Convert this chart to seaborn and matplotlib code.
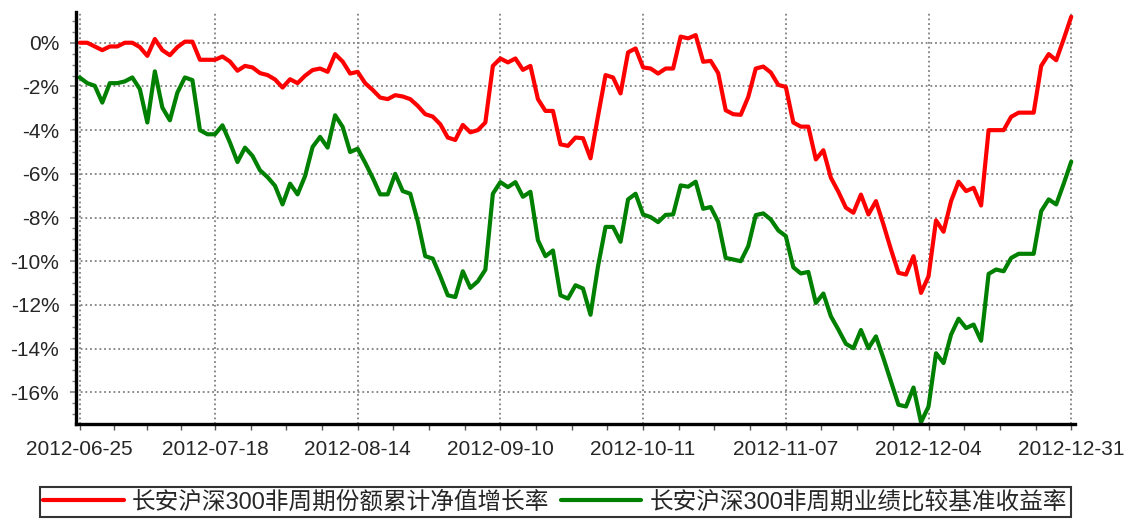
# Line chart: 长安沪深300非周期 net value growth vs benchmark
import numpy as np
import pandas as pd
import seaborn as sns
import matplotlib.pyplot as plt
from matplotlib.ticker import FixedLocator, FuncFormatter, MultipleLocator

# trading days plus the half-year / quarter-end valuation days
dates = pd.bdate_range("2012-06-25", "2012-12-31")
dates = dates[~((dates >= "2012-10-01") & (dates <= "2012-10-05"))]
dates = dates.append(pd.DatetimeIndex(["2012-06-30", "2012-09-30"])).sort_values()
date_labels = [d.strftime("%Y-%m-%d") for d in dates]

tick_labels = ["2012-06-25", "2012-07-18", "2012-08-14", "2012-09-10",
               "2012-10-11", "2012-11-07", "2012-12-04", "2012-12-31"]

# 份额累计净值增长率 (%)
fund = [0.0, 0.0, -0.17, -0.34, -0.17, -0.17, 0.0, 0.0, -0.2, -0.6,
        0.17, -0.34, -0.57, -0.2, 0.05, 0.05, -0.78, -0.78, -0.78, -0.63,
        -0.86, -1.28, -1.06, -1.13, -1.39, -1.48, -1.68, -2.05, -1.67, -1.85,
        -1.51, -1.25, -1.18, -1.33, -0.52, -0.86, -1.41, -1.33, -1.85, -2.16,
        -2.51, -2.58, -2.40, -2.46, -2.58, -2.89, -3.27, -3.38, -3.73, -4.34,
        -4.45, -3.76, -4.10, -4.0, -3.65, -1.06, -0.72, -0.90, -0.72, -1.24,
        -1.06, -2.58, -3.12, -3.12, -4.65, -4.72, -4.34, -4.37, -5.29, -3.35,
        -1.48, -1.59, -2.32, -0.44, -0.26, -1.13, -1.18, -1.41, -1.18, -1.18,
        0.28, 0.20, 0.35, -0.87, -0.83, -1.39, -3.09, -3.27, -3.30, -2.48,
        -1.18, -1.09, -1.36, -1.93, -2.02, -3.65, -3.84, -3.84, -5.34, -4.92,
        -6.18, -6.82, -7.55, -7.78, -6.95, -7.86, -7.25, -8.32, -9.46, -10.53,
        -10.61, -9.77, -11.45, -10.69, -8.13, -8.65, -7.25, -6.36, -6.79, -6.64,
        -7.45, -4.0, -4.0, -4.0, -3.39, -3.20, -3.20, -3.20, -1.06, -0.52,
        -0.80, 0.17, 1.19]

# 业绩比较基准收益率 (%)
bench = [-1.59, -1.85, -1.97, -2.74, -1.85, -1.85, -1.77, -1.59, -2.12, -3.65,
         -1.31, -2.97, -3.55, -2.28, -1.59, -1.71, -4.0, -4.19, -4.19, -3.78,
         -4.57, -5.46, -4.80, -5.18, -5.84, -6.15, -6.55, -7.40, -6.45, -6.94,
         -6.10, -4.77, -4.31, -4.80, -3.32, -3.85, -5.0, -4.85, -5.49, -6.18,
         -6.94, -6.94, -6.0, -6.79, -6.91, -8.17, -9.77, -9.88, -10.69, -11.56,
         -11.64, -10.46, -11.22, -10.92, -10.39, -6.91, -6.38, -6.61, -6.38, -7.05,
         -6.82, -9.04, -9.77, -9.51, -11.56, -11.71, -11.10, -11.25, -12.45, -10.23,
         -8.43, -8.43, -9.11, -7.17, -6.91, -7.86, -7.98, -8.21, -7.88, -7.86,
         -6.53, -6.59, -6.36, -7.60, -7.52, -8.20, -9.85, -9.92, -10.0, -9.31,
         -7.89, -7.81, -8.09, -8.59, -8.85, -10.28, -10.56, -10.49, -11.91, -11.48,
         -12.52, -13.13, -13.78, -13.98, -13.15, -13.98, -13.44, -14.44, -15.50, -16.57,
         -16.65, -15.78, -17.37, -16.65, -14.21, -14.66, -13.36, -12.63, -13.06, -12.90,
         -13.64, -10.58, -10.38, -10.46, -9.85, -9.66, -9.66, -9.66, -7.71, -7.17,
         -7.40, -6.45, -5.44]

series_names = ["长安沪深300非周期份额累计净值增长率", "长安沪深300非周期业绩比较基准收益率"]

sns.set_theme(style="white")
plt.rcParams["font.family"] = ["Liberation Sans", "Noto Sans CJK SC", "DejaVu Sans"]
plt.rcParams["axes.unicode_minus"] = False

df = pd.DataFrame({"pos": np.arange(len(dates)), "date": date_labels,
                   series_names[0]: fund, series_names[1]: bench})
long = df.melt(id_vars=["pos", "date"], var_name="series", value_name="value")

fig = plt.figure(figsize=(11.24, 5.21), dpi=100)
ax = fig.add_axes([0.0676, 0.1862, 0.8888, 0.7913])

sns.lineplot(data=long, x="pos", y="value", hue="series",
             palette=["#ff0000", "#008000"], linewidth=3, ax=ax, legend=False)

ax.set_xlim(-0.5, len(dates) - 0.5)
ax.set_ylim(-17.45, 1.42)

major_pos = [date_labels.index(t) for t in tick_labels]
ax.xaxis.set_major_locator(FixedLocator(major_pos))
ax.set_xticklabels(tick_labels)
minor_pos = []
for a, b in zip(major_pos[:-1], major_pos[1:]):
    minor_pos += list(np.linspace(a, b, 5)[1:-1])
ax.xaxis.set_minor_locator(FixedLocator(minor_pos))

ax.yaxis.set_major_locator(MultipleLocator(2))
ax.yaxis.set_minor_locator(MultipleLocator(0.5))
ax.yaxis.set_major_formatter(FuncFormatter(lambda v, p: f"{v:.0f}%"))

ax.grid(True, which="major", color="#808080", linestyle=(0, (1, 1.6)), linewidth=1.3)
ax.set_axisbelow(True)

for side in ["top", "right"]:
    ax.spines[side].set_visible(False)
for side in ["left", "bottom"]:
    ax.spines[side].set_color("black")
    ax.spines[side].set_linewidth(2.4)

ax.tick_params(axis="x", which="both", direction="out", length=4.5, width=1,
               color="#555555", pad=7, labelsize=15, bottom=True)
ax.tick_params(axis="y", which="major", direction="out", length=4, width=1.2,
               color="#808080", pad=8, labelsize=15, left=True)
ax.tick_params(axis="y", which="minor", direction="out", length=3, width=1,
               color="#808080", left=True)
ax.set_xlabel("")
ax.set_ylabel("")

handles = [plt.Line2D([], [], color="#ff0000", linewidth=3),
           plt.Line2D([], [], color="#008000", linewidth=3)]
leg = fig.legend(handles, series_names, loc="center", bbox_to_anchor=(0.494, 0.036),
                 ncol=2, frameon=True, fancybox=False, shadow=False,
                 fontsize=17, handlelength=3.4, handletextpad=0.35,
                 columnspacing=0.5, borderpad=0.15, borderaxespad=0)
leg.get_frame().set_edgecolor("black")
leg.get_frame().set_linewidth(1.5)
for t in leg.get_texts():
    t.set_fontfamily(["Liberation Sans", "Noto Sans CJK SC"])

fig.savefig("out.png", dpi=100)
